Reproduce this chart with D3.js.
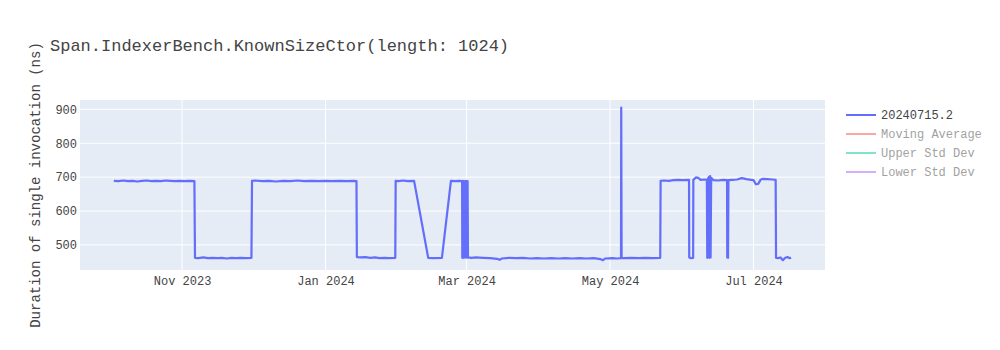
<!DOCTYPE html>
<html>
<head>
<meta charset="utf-8">
<script src="https://cdn.jsdelivr.net/npm/d3@7"></script>
<style>
  body { margin: 0; background: #fff; }
  text { font-family: "Liberation Mono", "Courier New", monospace; }
</style>
</head>
<body>
<div id="chart"></div>
<script>
// benchmark runs: [timestamp, duration in ns]
const samples = [
    ['2023-10-03 00', 689], ['2023-10-05 00', 688], ['2023-10-07 00', 690], ['2023-10-09 00', 688],
    ['2023-10-11 00', 689], ['2023-10-13 00', 687], ['2023-10-15 00', 689], ['2023-10-17 00', 690],
    ['2023-10-19 00', 688], ['2023-10-21 00', 689], ['2023-10-23 00', 688], ['2023-10-25 00', 690],
    ['2023-10-27 00', 689], ['2023-10-29 00', 688], ['2023-10-31 00', 689], ['2023-11-02 00', 688],
    ['2023-11-04 00', 689], ['2023-11-06 06', 688], ['2023-11-06 12', 462],
    ['2023-11-08 00', 461], ['2023-11-10 00', 463], ['2023-11-12 00', 461], ['2023-11-14 00', 462],
    ['2023-11-16 00', 461], ['2023-11-18 00', 462], ['2023-11-20 00', 460], ['2023-11-22 00', 462],
    ['2023-11-24 00', 461], ['2023-11-26 00', 462], ['2023-11-28 00', 461], ['2023-11-30 12', 462],
    ['2023-11-30 18', 689],
    ['2023-12-02 00', 690], ['2023-12-05 00', 688], ['2023-12-08 00', 689], ['2023-12-11 00', 687],
    ['2023-12-14 00', 689], ['2023-12-17 00', 688], ['2023-12-20 00', 690], ['2023-12-23 00', 688],
    ['2023-12-26 00', 689], ['2023-12-29 00', 688], ['2024-01-01 00', 689], ['2024-01-04 00', 688],
    ['2024-01-07 00', 689], ['2024-01-10 00', 688], ['2024-01-13 00', 689], ['2024-01-14 04', 688],
    ['2024-01-14 08', 464],
    ['2024-01-16 00', 463], ['2024-01-18 00', 464], ['2024-01-20 00', 462], ['2024-01-22 00', 463],
    ['2024-01-24 00', 461], ['2024-01-26 00', 462], ['2024-01-28 00', 461], ['2024-01-30 16', 462],
    ['2024-01-30 20', 689],
    ['2024-02-01 00', 688], ['2024-02-03 00', 690], ['2024-02-05 00', 688], ['2024-02-07 16', 689],
    ['2024-02-13 16', 462], ['2024-02-16 00', 461], ['2024-02-19 12', 462],
    ['2024-02-23 08', 689], ['2024-02-25 00', 688], ['2024-02-27 00', 689], ['2024-02-28 02', 688],
    ['2024-02-28 04', 462], ['2024-02-28 12', 689], ['2024-02-28 20', 462], ['2024-02-29 04', 688],
    ['2024-02-29 12', 463], ['2024-02-29 20', 689], ['2024-03-01 04', 462], ['2024-03-01 10', 688],
    ['2024-03-01 14', 463],
    ['2024-03-03 00', 462], ['2024-03-05 00', 463], ['2024-03-08 00', 462], ['2024-03-11 00', 461],
    ['2024-03-14 00', 459], ['2024-03-15 00', 456], ['2024-03-16 00', 460], ['2024-03-19 00', 462],
    ['2024-03-22 00', 461], ['2024-03-25 00', 462], ['2024-03-28 00', 460], ['2024-03-31 00', 461],
    ['2024-04-03 00', 460], ['2024-04-06 00', 461], ['2024-04-09 00', 460], ['2024-04-12 00', 461],
    ['2024-04-15 00', 460], ['2024-04-18 00', 461], ['2024-04-21 00', 460], ['2024-04-24 00', 461],
    ['2024-04-27 00', 458], ['2024-04-28 00', 455], ['2024-04-29 00', 460], ['2024-05-02 00', 461],
    ['2024-05-04 00', 460], ['2024-05-05 16', 461], ['2024-05-05 18', 905], ['2024-05-05 22', 462],
    ['2024-05-07 00', 461], ['2024-05-10 00', 462], ['2024-05-13 00', 461], ['2024-05-16 00', 462],
    ['2024-05-19 00', 461], ['2024-05-22 08', 462], ['2024-05-22 12', 689],
    ['2024-05-24 00', 690], ['2024-05-26 00', 689], ['2024-05-28 00', 691], ['2024-05-30 00', 692],
    ['2024-06-01 00', 691], ['2024-06-03 14', 692], ['2024-06-03 16', 463], ['2024-06-04 12', 461],
    ['2024-06-05 08', 462], ['2024-06-05 10', 692], ['2024-06-06 12', 699], ['2024-06-07 12', 698],
    ['2024-06-08 12', 692], ['2024-06-10 00', 693], ['2024-06-11 04', 692], ['2024-06-11 08', 462],
    ['2024-06-11 14', 696], ['2024-06-11 20', 463], ['2024-06-12 02', 701], ['2024-06-12 08', 462],
    ['2024-06-12 14', 703], ['2024-06-12 18', 463], ['2024-06-13 00', 698], ['2024-06-14 00', 691],
    ['2024-06-16 00', 690], ['2024-06-18 00', 692], ['2024-06-19 18', 691], ['2024-06-19 20', 463],
    ['2024-06-20 04', 462], ['2024-06-20 08', 691], ['2024-06-22 00', 692], ['2024-06-24 00', 693],
    ['2024-06-26 00', 697], ['2024-06-28 00', 694], ['2024-06-30 00', 692], ['2024-07-01 00', 691],
    ['2024-07-02 00', 679], ['2024-07-03 00', 680], ['2024-07-04 00', 692], ['2024-07-05 00', 695],
    ['2024-07-07 00', 694], ['2024-07-09 00', 693], ['2024-07-10 10', 692], ['2024-07-10 14', 462],
    ['2024-07-11 12', 461], ['2024-07-12 12', 463], ['2024-07-13 12', 455], ['2024-07-14 12', 462],
    ['2024-07-15 12', 464], ['2024-07-16 12', 461], ['2024-07-17 00', 462]
];

const legendNames = ['20240715.2', 'Moving Average', 'Upper Std Dev', 'Lower Std Dev'];
const legendColors = ['#636efa', '#EF553B', '#00cc96', '#ab63fa'];
const legendVisible = [true, false, false, false];
const yTicks = [500, 600, 700, 800, 900];

const chartTitle = 'Span.IndexerBench.KnownSizeCtor(length: 1024)';
const yTitle = 'Duration of single invocation (ns)';

const W = 1000, H = 350;
const margin = {top: 100, right: 175, bottom: 80, left: 80};
const width = W - margin.left - margin.right;
const height = H - margin.top - margin.bottom;

const parse = d3.utcParse('%Y-%m-%d %H');
const data = samples.map(d => ({date: parse(d[0]), value: d[1]}));

const svg = d3.select('#chart')
    .append('svg')
    .attr('width', W)
    .attr('height', H);

// x range padded 5% like plotly autorange
const ext = d3.extent(data, d => d.date);
const pad = (ext[1] - ext[0]) * 0.05;
const x = d3.scaleUtc()
    .domain([new Date(+ext[0] - pad), new Date(+ext[1] + pad)])
    .range([0, width]);

const y = d3.scaleLinear()
    .domain([426, 927.5])
    .range([height, 0]);

const g = svg.append('g')
    .attr('transform', `translate(${margin.left},${margin.top})`);

g.append('rect')
    .attr('width', width)
    .attr('height', height)
    .attr('fill', '#E5ECF6');

const xTicks = x.ticks(d3.utcMonth.every(2));

// grid
g.append('g')
    .selectAll('line')
    .data(xTicks)
    .enter()
    .append('line')
    .attr('x1', d => x(d)).attr('x2', d => x(d))
    .attr('y1', 0).attr('y2', height)
    .attr('stroke', '#fff').attr('stroke-width', 1);

g.append('g')
    .selectAll('line')
    .data(yTicks)
    .enter()
    .append('line')
    .attr('x1', 0).attr('x2', width)
    .attr('y1', d => y(d)).attr('y2', d => y(d))
    .attr('stroke', '#fff').attr('stroke-width', 1);

// axes (labels only)
const xAxis = g.append('g')
    .attr('transform', `translate(0,${height})`)
    .call(d3.axisBottom(x).tickValues(xTicks).tickFormat(d3.utcFormat('%b %Y')).tickSize(0).tickPadding(6));
xAxis.select('.domain').remove();
xAxis.selectAll('text').attr('fill', '#444').style('font-size', '12px')
    .style('font-family', '"Liberation Mono", "Courier New", monospace');

const yAxis = g.append('g')
    .call(d3.axisLeft(y).tickValues(yTicks).tickSize(0).tickPadding(3));
yAxis.select('.domain').remove();
yAxis.selectAll('text').attr('fill', '#444').style('font-size', '12px')
    .style('font-family', '"Liberation Mono", "Courier New", monospace');

// line
const line = d3.line()
    .x(d => x(d.date))
    .y(d => y(d.value));

g.append('path')
    .datum(data)
    .attr('fill', 'none')
    .attr('stroke', legendColors[0])
    .attr('stroke-width', 2.2)
    .attr('stroke-linejoin', 'round')
    .attr('d', line);

// titles
svg.append('text')
    .attr('x', 50)
    .attr('y', 51)
    .attr('fill', '#444')
    .style('font-size', '17px')
    .text(chartTitle);

svg.append('text')
    .attr('transform', `translate(40,${margin.top + height / 2}) rotate(-90)`)
    .attr('text-anchor', 'middle')
    .attr('fill', '#444')
    .style('font-size', '14px')
    .text(yTitle);

// legend
const legend = svg.append('g')
    .attr('transform', `translate(846,115)`);

const item = legend.selectAll('g')
    .data(legendNames)
    .enter()
    .append('g')
    .attr('transform', (d, i) => `translate(0,${i * 19})`)
    .attr('opacity', (d, i) => legendVisible[i] ? 1 : 0.5);

item.append('line')
    .attr('x1', 0).attr('x2', 30)
    .attr('stroke', (d, i) => legendColors[i])
    .attr('stroke-width', 2);

item.append('text')
    .attr('x', 35)
    .attr('dy', '0.35em')
    .attr('fill', '#444')
    .style('font-size', '12px')
    .text(d => d);
</script>
</body>
</html>
